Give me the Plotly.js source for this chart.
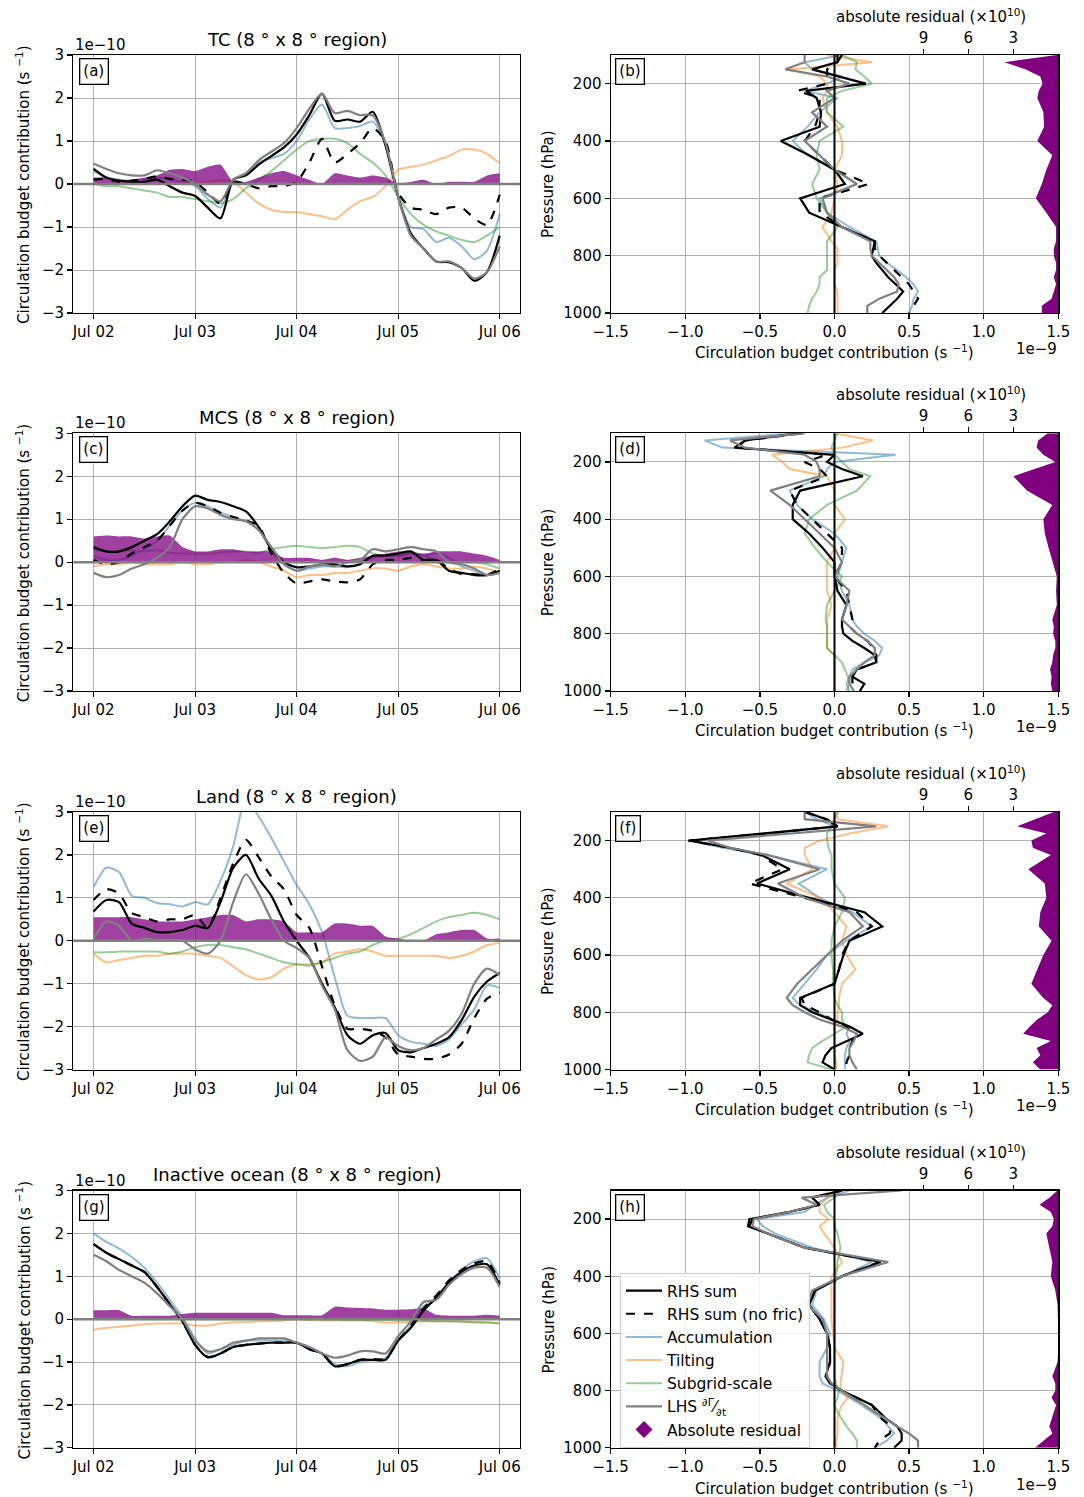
<!DOCTYPE html>
<html><head><meta charset="utf-8">
<script src="https://cdn.plot.ly/plotly-3.0.1.min.js"></script>
<style>body{margin:0;background:#fff}#chart{width:1084px;height:1497px}</style>
</head><body><div id="chart"></div>
<script>
// ---------- time axis (days after Jul 02 00 UTC) ----------
const timeDays = [0,0.125,0.25,0.375,0.5,0.625,0.75,0.875,1,1.125,1.25,1.375,1.5,1.625,1.75,1.875,2,2.125,2.25,2.375,2.5,2.625,2.75,2.875,3,3.125,3.25,3.375,3.5,3.625,3.75,3.875,4];
const tickDays = [0,1,2,3,4];
const tickDates = ['Jul 02','Jul 03','Jul 04','Jul 05','Jul 06'];
const pressure = [100,125,150,175,200,225,250,300,350,400,450,500,550,600,650,700,750,775,800,825,850,875,900,925,950,975,1000];
const pressureTicks = [200,400,600,800,1000];
const residTicks = [3,6,9];

// ---------- (a) TC time series (x1e-10 s^-1) ----------
const tcRHS = [0.35,0.15,0.08,0.05,0.05,0.1,-0.05,-0.2,-0.28,-0.55,-0.8,0.1,0.2,0.45,0.65,0.85,1.15,1.6,2.1,1.47,1.5,1.45,1.68,0.9,-0.3,-1.15,-1.5,-1.8,-1.82,-1.95,-2.25,-2.05,-1.2];
const tcNofric = [0.1,0.12,0.05,0.08,0.12,0.18,0.12,0.1,0.05,-0.2,-0.45,0.05,0.0,-0.1,-0.05,-0.05,0.05,0.5,1.05,0.5,0.7,0.95,1.3,1.0,-0.2,-0.55,-0.6,-0.7,-0.55,-0.55,-0.8,-0.95,-0.25];
const tcAccum = [0.3,0.15,0.1,0.05,0.1,0.15,0.1,0.05,-0.05,-0.35,-0.55,0.1,0.25,0.5,0.6,0.7,1.0,1.5,1.85,1.3,1.3,1.35,1.45,0.9,-0.3,-1.0,-1.05,-1.35,-1.25,-1.45,-1.75,-1.55,-0.7];
const tcTilt = [0,0,0,0,0,0,0,0.02,0.02,0.05,0.08,0.05,-0.2,-0.45,-0.6,-0.65,-0.65,-0.7,-0.75,-0.82,-0.6,-0.4,-0.3,-0.05,0.33,0.4,0.45,0.55,0.65,0.8,0.8,0.7,0.48];
const tcSub = [0,-0.05,-0.05,-0.1,-0.15,-0.2,-0.3,-0.3,-0.35,-0.4,-0.45,-0.35,-0.1,0.1,0.3,0.55,0.8,1.0,1.05,1.05,0.95,0.7,0.5,0.2,-0.3,-0.7,-0.95,-1.1,-1.2,-1.3,-1.35,-1.2,-1.0];
const tcLHS = [0.47,0.35,0.25,0.2,0.2,0.32,0.25,0.15,0.0,-0.25,-0.4,0.1,0.25,0.55,0.75,0.95,1.3,1.75,2.1,1.65,1.7,1.6,1.6,0.95,-0.3,-1.2,-1.5,-1.8,-1.8,-1.95,-2.2,-2.05,-1.45];
const tcResid = [0.15,0.15,0.1,0.1,0.15,0.2,0.33,0.35,0.3,0.4,0.45,0.05,0.05,0.15,0.25,0.3,0.2,0.1,0.0,0.25,0.2,0.15,0.2,0.15,0.0,0.05,0.1,0.0,0.05,0.05,0.05,0.2,0.25];

// ---------- (c) MCS time series ----------
const mcsRHS = [0.35,0.25,0.25,0.35,0.5,0.65,0.95,1.3,1.55,1.45,1.4,1.3,1.18,0.82,0.3,0.0,-0.12,-0.1,-0.05,-0.05,-0.1,-0.05,0.15,0.15,0.2,0.25,0.05,0.05,-0.2,-0.25,-0.3,-0.3,-0.2];
const mcsNofric = [0.05,-0.05,0.0,0.2,0.35,0.5,0.85,1.2,1.38,1.3,1.15,1.05,0.97,0.85,0.2,-0.25,-0.5,-0.45,-0.4,-0.45,-0.47,-0.4,-0.05,0.05,0.05,0.1,0.05,0.05,-0.15,-0.28,-0.28,-0.3,-0.15];
const mcsAccum = [0.15,0.05,0.05,0.15,0.3,0.5,0.85,1.2,1.38,1.3,1.15,1.05,0.95,0.75,0.35,0.0,-0.2,-0.15,-0.1,-0.1,-0.12,-0.05,0.1,0.15,0.15,0.2,0.15,0.2,0.1,-0.1,-0.2,-0.3,-0.25];
const mcsTilt = [-0.1,-0.05,-0.05,0.0,-0.05,-0.05,-0.05,0.0,-0.05,-0.05,0.0,0.0,0.05,0.0,-0.1,-0.2,-0.35,-0.3,-0.3,-0.25,-0.25,-0.2,-0.15,-0.15,-0.2,-0.1,-0.05,-0.1,-0.15,-0.15,-0.1,-0.15,-0.25];
const mcsSub = [0.28,0.25,0.25,0.28,0.25,0.28,0.22,0.2,0.2,0.2,0.22,0.25,0.25,0.22,0.3,0.35,0.38,0.35,0.33,0.35,0.38,0.35,0.2,0.15,0.15,0.2,0.15,0.05,0.0,0.0,0.0,-0.05,-0.15];
const mcsLHS = [-0.25,-0.35,-0.3,-0.15,-0.05,0.1,0.35,1.0,1.3,1.25,1.1,1.0,0.95,0.75,0.35,-0.05,-0.2,-0.1,-0.05,-0.1,0.0,0.05,0.3,0.25,0.3,0.35,0.3,0.25,0.0,-0.05,-0.15,-0.3,-0.25];
const mcsResid = [0.6,0.62,0.6,0.6,0.55,0.6,0.62,0.35,0.25,0.25,0.3,0.3,0.25,0.25,0.25,0.1,0.1,0.1,0.05,0.1,0.05,0.1,0.15,0.2,0.25,0.25,0.2,0.25,0.25,0.25,0.2,0.15,0.05];

// ---------- (e) Land time series ----------
const landRHS = [0.68,0.95,0.9,0.4,0.3,0.2,0.2,0.25,0.35,0.3,0.9,1.7,2.0,1.45,1.05,0.45,0.0,-0.4,-1.0,-1.55,-2.2,-2.4,-2.2,-2.15,-2.55,-2.6,-2.5,-2.4,-2.25,-1.85,-1.3,-0.95,-0.75];
const landNofric = [0.95,1.2,1.1,0.65,0.55,0.45,0.5,0.5,0.6,0.3,1.0,1.8,2.35,1.95,1.5,1.2,0.6,0.3,-0.6,-1.5,-2.05,-2.05,-2.1,-2.25,-2.65,-2.7,-2.75,-2.75,-2.65,-2.4,-1.8,-1.35,-1.2];
const landAccum = [1.25,1.7,1.6,1.05,1.0,0.88,0.85,0.8,0.9,0.85,1.4,2.2,3.3,2.9,2.4,1.85,1.3,0.85,0.2,-0.85,-1.75,-1.8,-1.8,-1.8,-2.2,-2.35,-2.4,-2.45,-2.3,-1.95,-1.6,-1.04,-1.1];
const landTilt = [-0.3,-0.5,-0.45,-0.4,-0.35,-0.35,-0.3,-0.3,-0.3,-0.35,-0.4,-0.6,-0.8,-0.9,-0.85,-0.65,-0.55,-0.55,-0.5,-0.3,-0.25,-0.2,-0.25,-0.35,-0.35,-0.35,-0.35,-0.35,-0.4,-0.35,-0.25,-0.1,-0.05];
const landSub = [-0.27,-0.27,-0.25,-0.25,-0.25,-0.25,-0.3,-0.25,-0.15,-0.1,-0.1,-0.15,-0.2,-0.3,-0.4,-0.5,-0.55,-0.58,-0.5,-0.4,-0.3,-0.25,-0.1,0.0,0.05,0.15,0.3,0.45,0.55,0.6,0.65,0.6,0.5];
const landLHS = [0.05,0.45,0.35,0.0,0.05,0.02,0.02,0.0,-0.2,-0.3,0.0,0.9,1.55,1.1,0.5,0.0,-0.17,-0.4,-1.05,-1.6,-2.55,-2.8,-2.7,-2.25,-2.45,-2.55,-2.5,-2.3,-2.1,-1.7,-1.0,-0.65,-0.8];
const landResid = [0.55,0.55,0.55,0.55,0.5,0.45,0.45,0.45,0.5,0.55,0.6,0.6,0.45,0.5,0.5,0.45,0.2,0.2,0.2,0.4,0.4,0.35,0.35,0.1,0.05,0.0,0.0,0.15,0.2,0.25,0.25,0.05,0.05];

// ---------- (g) Inactive ocean time series ----------
const oceanRHS = [1.75,1.55,1.4,1.25,1.1,0.75,0.35,-0.05,-0.6,-0.89,-0.8,-0.65,-0.6,-0.57,-0.55,-0.55,-0.55,-0.7,-0.8,-1.1,-1.05,-0.95,-0.95,-0.95,-0.5,-0.2,0.2,0.5,0.85,1.1,1.25,1.28,0.8];
const oceanNofric = [1.75,1.55,1.4,1.25,1.1,0.75,0.35,-0.05,-0.6,-0.88,-0.8,-0.65,-0.6,-0.57,-0.55,-0.55,-0.55,-0.7,-0.8,-1.1,-1.05,-0.95,-0.93,-0.93,-0.5,-0.15,0.25,0.55,0.9,1.15,1.3,1.35,0.85];
const oceanAccum = [2.0,1.8,1.65,1.45,1.2,0.85,0.45,0.05,-0.45,-0.8,-0.7,-0.6,-0.5,-0.5,-0.5,-0.5,-0.55,-0.65,-0.8,-1.05,-1.1,-1.0,-0.95,-0.9,-0.5,-0.15,0.3,0.45,0.85,1.15,1.35,1.42,0.95];
const oceanTilt = [-0.25,-0.2,-0.18,-0.15,-0.12,-0.1,-0.1,-0.1,-0.15,-0.15,-0.1,-0.08,-0.07,-0.05,-0.05,-0.03,0.0,-0.02,-0.03,-0.03,-0.03,-0.03,-0.05,-0.08,-0.08,-0.07,-0.05,-0.05,-0.05,-0.05,-0.07,-0.08,-0.1];
const oceanSub = [0,0,0,0,0,0,0,0,0,0,0,0,0,0,0,0,0,-0.01,-0.01,-0.01,-0.02,-0.02,-0.02,-0.02,-0.03,-0.03,-0.04,-0.05,-0.05,-0.06,-0.07,-0.08,-0.1];
const oceanLHS = [1.5,1.35,1.15,1.0,0.85,0.6,0.3,0.0,-0.5,-0.75,-0.7,-0.55,-0.5,-0.45,-0.45,-0.45,-0.55,-0.65,-0.8,-0.9,-0.85,-0.75,-0.75,-0.8,-0.4,-0.05,0.4,0.45,0.8,1.05,1.2,1.2,0.75];
const oceanResid = [0.21,0.21,0.21,0.08,0.08,0.08,0.08,0.12,0.15,0.15,0.15,0.15,0.15,0.15,0.15,0.09,0.09,0.09,0.09,0.29,0.27,0.26,0.25,0.22,0.22,0.23,0.25,0.1,0.08,0.08,0.08,0.1,0.08];

// ---------- vertical profiles (x1e-9 s^-1), residual (x1e10) ----------
const tcpRHS = [0.05,0.02,-0.15,0.03,0.21,-0.19,-0.12,-0.09,-0.1,-0.36,-0.17,0.0,0.07,-0.23,-0.17,0.05,0.27,0.26,0.25,0.28,0.32,0.36,0.41,0.46,0.42,0.37,0.32];
const tcpNofric = [0.02,0.02,-0.05,-0.05,-0.05,-0.25,-0.1,-0.1,-0.13,-0.2,-0.1,0.0,0.23,-0.1,-0.1,0.05,0.27,0.27,0.3,0.35,0.4,0.45,0.5,0.53,0.56,0.53,0.5];
const tcpAccum = [0.05,-0.2,-0.15,0.05,-0.05,-0.2,0.02,-0.1,-0.18,-0.28,-0.18,0.0,0.15,-0.1,-0.05,0.1,0.28,0.29,0.3,0.35,0.42,0.48,0.53,0.56,0.53,0.52,0.5];
const tcpTilt = [-0.05,0.25,-0.3,-0.1,-0.05,-0.05,-0.08,-0.05,0.02,0.05,0.05,0.0,0.02,0.0,-0.02,-0.08,-0.02,0.02,0.02,0.02,0.0,0.0,0.0,0.02,0.02,0.02,0.02];
const tcpSub = [0.05,0.15,0.14,0.2,0.25,0.05,-0.05,-0.05,0.06,-0.1,-0.12,-0.1,-0.15,-0.12,-0.05,0.02,-0.05,-0.05,-0.05,-0.05,-0.05,-0.1,-0.1,-0.12,-0.15,-0.17,-0.18];
const tcpLHS = [-0.2,-0.2,-0.33,-0.05,0.1,-0.05,0.0,-0.15,-0.05,-0.2,-0.1,0.0,0.15,-0.08,-0.05,0.05,0.24,0.24,0.25,0.3,0.35,0.4,0.43,0.42,0.3,0.22,0.22];
const tcpResid = [0.1,3.6,2.2,1.2,1.05,1.3,1.4,1.0,0.95,1.4,0.4,0.8,1.1,1.5,0.8,0.15,0.15,0.3,0.3,0.15,0.15,0.3,0.15,0.3,0.45,1.1,1.1];

const mcspRHS = [-0.25,-0.6,-0.67,0.0,-0.05,0.05,0.19,-0.23,-0.28,-0.28,-0.17,-0.08,0.0,0.0,0.02,0.08,0.05,0.05,0.06,0.12,0.2,0.27,0.28,0.15,0.12,0.2,0.17];
const mcspNofric = [-0.22,-0.6,-0.65,-0.05,-0.2,-0.1,-0.05,-0.3,-0.25,-0.15,-0.05,0.05,0.05,0.0,0.08,0.1,0.12,0.1,0.15,0.22,0.26,0.28,0.28,0.15,0.12,0.12,0.1];
const mcspAccum = [-0.3,-0.87,-0.75,0.41,0.0,-0.05,-0.07,-0.3,-0.25,-0.15,0.0,0.08,0.05,0.02,0.05,0.1,0.12,0.15,0.2,0.27,0.32,0.3,0.2,0.12,0.1,0.08,0.1];
const mcspTilt = [0.0,0.26,0.05,-0.42,-0.35,-0.3,-0.05,0.0,0.0,0.07,0.0,0.0,-0.05,-0.05,-0.05,-0.02,-0.05,-0.05,-0.05,-0.05,-0.05,0.0,0.0,0.0,0.0,0.0,0.0];
const mcspSub = [0.02,0.0,-0.02,0.0,0.05,0.1,0.24,0.15,-0.05,-0.17,-0.2,-0.13,-0.05,0.05,0.0,-0.05,-0.06,-0.05,-0.05,-0.05,-0.05,0.0,0.05,0.07,0.09,0.1,0.08];
const mcspLHS = [-0.2,-0.7,-0.6,-0.2,-0.12,-0.1,-0.1,-0.43,-0.3,-0.2,-0.1,0.0,0.05,0.0,0.1,0.08,0.05,0.1,0.15,0.22,0.27,0.27,0.2,0.15,0.1,0.1,0.13];
const mcspResid = [0.7,1.35,1.45,1.0,0.2,1.55,3.0,2.1,0.4,1.0,0.9,0.65,0.35,0.1,0.15,0.1,0.4,0.3,0.35,0.2,0.2,0.35,0.4,0.55,0.45,0.5,0.4];

const landpRHS = [-0.19,-0.06,0.02,-0.5,-0.97,-0.7,-0.49,-0.3,-0.52,-0.17,0.2,0.32,0.1,0.06,0.03,0.0,-0.23,-0.23,-0.15,-0.02,0.1,0.19,0.08,-0.02,-0.06,-0.08,0.0];
const landpNofric = [-0.2,-0.05,0.02,-0.45,-0.98,-0.7,-0.5,-0.35,-0.57,-0.2,0.15,0.25,0.1,0.05,0.03,0.0,-0.22,-0.2,-0.1,-0.02,0.08,0.12,0.12,0.1,0.1,0.08,0.08];
const landpAccum = [-0.2,-0.12,0.0,-0.4,-0.97,-0.75,-0.45,-0.05,-0.24,-0.1,0.12,0.25,0.08,-0.05,-0.12,-0.2,-0.28,-0.23,-0.12,0.0,0.1,0.08,0.1,0.08,0.07,0.07,0.07];
const landpTilt = [0.02,0.02,0.36,0.1,-0.1,-0.2,-0.2,-0.15,-0.32,-0.1,0.0,0.08,0.05,0.08,0.14,0.05,0.03,0.03,0.02,0.02,0.0,0.0,0.0,0.0,0.0,0.01,0.01];
const landpSub = [0.02,0.0,-0.02,-0.05,-0.05,-0.04,-0.02,-0.02,0.0,0.07,0.05,0.0,-0.02,-0.02,-0.01,-0.01,0.0,0.02,0.05,0.05,0.08,0.0,-0.08,-0.15,-0.17,-0.18,-0.02];
const landpLHS = [-0.2,-0.2,0.28,-0.3,-0.85,-0.7,-0.45,-0.1,-0.38,-0.2,0.1,0.19,0.05,-0.05,-0.15,-0.25,-0.32,-0.28,-0.2,-0.1,0.05,0.15,0.13,0.1,0.1,0.12,0.15];
const landpResid = [0.3,1.5,2.75,0.8,1.8,1.7,0.5,2.0,0.9,0.8,1.2,1.3,0.45,1.0,1.4,1.8,1.0,0.4,0.7,1.4,1.9,2.35,0.5,1.45,1.2,1.7,1.2];

const oceanpRHS = [0.05,-0.15,-0.1,-0.3,-0.57,-0.58,-0.45,-0.2,0.31,0.05,-0.13,-0.17,-0.1,-0.05,-0.03,-0.03,-0.06,-0.03,0.05,0.15,0.25,0.3,0.35,0.42,0.45,0.45,0.4];
const oceanpNofric = [0.05,-0.15,-0.1,-0.3,-0.55,-0.57,-0.45,-0.2,0.3,0.05,-0.13,-0.17,-0.1,-0.05,-0.03,-0.03,-0.05,-0.03,0.05,0.15,0.25,0.28,0.32,0.38,0.37,0.3,0.27];
const oceanpAccum = [0.1,-0.05,-0.13,-0.2,-0.52,-0.48,-0.4,-0.15,0.25,0.05,-0.12,-0.15,-0.07,-0.03,-0.05,-0.1,-0.1,-0.08,0.02,0.1,0.18,0.25,0.32,0.36,0.4,0.35,0.27];
const oceanpTilt = [-0.05,-0.04,-0.1,-0.1,-0.04,-0.1,-0.07,0.0,0.05,-0.02,-0.02,-0.02,-0.02,-0.01,0.0,0.06,0.05,0.04,0.05,0.09,0.05,0.03,0.02,0.02,0.02,0.01,0.01];
const oceanpSub = [0.04,0.0,-0.07,-0.05,0.0,0.0,0.02,0.04,0.02,0.01,0.0,0.0,0.0,0.0,0.0,0.0,0.0,0.01,0.03,0.02,0.0,0.02,0.05,0.08,0.12,0.15,0.15];
const oceanpLHS = [0.45,-0.22,-0.12,-0.3,-0.54,-0.55,-0.45,-0.2,0.36,0.05,-0.15,-0.18,-0.08,-0.05,-0.05,-0.05,-0.05,-0.02,0.05,0.12,0.2,0.27,0.35,0.42,0.5,0.56,0.56];
const oceanpResid = [0.05,0.6,1.25,0.5,0.3,0.4,0.8,0.6,0.4,0.5,0.2,0.05,0.0,0.0,0.0,0.05,0.4,0.2,0.2,0.45,0.15,0.3,0.5,0.6,0.4,1.0,1.55];

const regionTitles = ['TC (8 ° x 8 ° region)','MCS (8 ° x 8 ° region)','Land (8 ° x 8 ° region)','Inactive ocean (8 ° x 8 ° region)'];
const panelLabels = [['(a)','(b)'],['(c)','(d)'],['(e)','(f)'],['(g)','(h)']];
const seriesNames = {rhs:'RHS sum', nofric:'RHS sum (no fric)', acc:'Accumulation', tilt:'Tilting', sub:'Subgrid-scale', lhs:'LHS <sup>∂Γ</sup>⁄<sub>∂t</sub>', res:'Absolute residual'};

// ---------- build ----------
const W = 1084, H = 1497;
const px = v => v / W, py = v => 1 - v / H;
const rowTop = [55, 433.3, 812, 1190.5];
const rowBot = [313, 691, 1069.5, 1447.8];
const FONT = 'DejaVu Sans';
const COL = {acc:'rgba(31,119,180,0.5)', tilt:'rgba(255,127,14,0.5)', sub:'rgba(44,160,44,0.5)',
             rhs:'black', lhs:'gray', resL:'rgba(128,0,128,0.75)', resR:'purple'};

const sets = [
  {ts:[tcRHS,tcNofric,tcAccum,tcTilt,tcSub,tcLHS,tcResid], pr:[tcpRHS,tcpNofric,tcpAccum,tcpTilt,tcpSub,tcpLHS,tcpResid]},
  {ts:[mcsRHS,mcsNofric,mcsAccum,mcsTilt,mcsSub,mcsLHS,mcsResid], pr:[mcspRHS,mcspNofric,mcspAccum,mcspTilt,mcspSub,mcspLHS,mcspResid]},
  {ts:[landRHS,landNofric,landAccum,landTilt,landSub,landLHS,landResid], pr:[landpRHS,landpNofric,landpAccum,landpTilt,landpSub,landpLHS,landpResid]},
  {ts:[oceanRHS,oceanNofric,oceanAccum,oceanTilt,oceanSub,oceanLHS,oceanResid], pr:[oceanpRHS,oceanpNofric,oceanpAccum,oceanpTilt,oceanpSub,oceanpLHS,oceanpResid]}
];

const traces = [], shapes = [], annotations = [];
const layout = {
  width: W, height: H, margin:{l:0,r:0,t:0,b:0},
  paper_bgcolor:'white', plot_bgcolor:'white',
  font:{family:FONT, size:15, color:'black'},
  showlegend:true,
  legend:{x:px(620), y:py(1273), xanchor:'left', yanchor:'top', bgcolor:'rgba(255,255,255,0.85)',
          bordercolor:'#cccccc', borderwidth:1, font:{size:15.5}, itemwidth:36, tracegroupgap:0},
};

const axKey = n => n === 1 ? 'xaxis' : 'xaxis' + n;
const ayKey = n => n === 1 ? 'yaxis' : 'yaxis' + n;
const baseAx = {showline:true, linecolor:'black', linewidth:1.2, mirror:true, ticks:'outside', ticklen:5,
  tickcolor:'black', tickwidth:1.2, showgrid:true, gridcolor:'#b0b0b0', gridwidth:1, zeroline:false,
  tickfont:{size:15}};

function ln(x, y, color, width, dash, name, xa, ya, show, rank, smooth) {
  const line = {color, width, dash:dash||'solid'};
  if (smooth) { line.shape = 'spline'; line.smoothing = 0.7; }
  return {type:'scatter', mode:'lines', x, y, xaxis:xa, yaxis:ya, name, showlegend:show,
          legendrank:rank, line, hoverinfo:'skip'};
}

sets.forEach((s, r) => {
  const nL = 3*r+1, nR = 3*r+2, nT = 3*r+3;
  const xl = 'x'+nL, yl = 'y'+nL, xr = 'x'+nR, yr = 'y'+nR, xt = 'x'+nT;
  const dom = [py(rowBot[r]), py(rowTop[r])];
  const show = (r === 3);
  const [rhs, nofric, acc, tilt, sub, lhs, res] = s.ts;
  const [prhs, pnofric, pacc, ptilt, psub, plhs, pres] = s.pr;

  layout[axKey(nL)] = Object.assign({}, baseAx, {domain:[px(73.3), px(520)], range:[-0.2, 4.2],
    tickvals:tickDays, ticktext:tickDates, anchor:yl});
  layout[ayKey(nL)] = Object.assign({}, baseAx, {domain:dom, range:[-3, 3], dtick:1, tick0:0, anchor:xl});
  layout[axKey(nR)] = Object.assign({}, baseAx, {domain:[px(610.7), px(1058.3)], range:[-1.5, 1.5],
    dtick:0.5, tick0:0, tickformat:'.1f', anchor:yr});
  layout[ayKey(nR)] = Object.assign({}, baseAx, {domain:dom, range:[1000, 100], tickvals:pressureTicks, anchor:xr});
  layout[axKey(nT)] = {overlaying:xr, side:'top', anchor:yr, range:[29.87, 0], tickvals:residTicks,
    ticks:'outside', ticklen:5, tickcolor:'black', tickwidth:1.2, showgrid:false, zeroline:false,
    showline:false, tickfont:{size:15}};

  // left panel (time series)
  traces.push(ln(timeDays, acc, COL.acc, 2, null, seriesNames.acc, xl, yl, false, 3, true));
  traces.push(ln(timeDays, tilt, COL.tilt, 2, null, seriesNames.tilt, xl, yl, false, 4, true));
  traces.push(ln(timeDays, sub, COL.sub, 2, null, seriesNames.sub, xl, yl, false, 5, true));
  traces.push({type:'scatter', mode:'lines', x:timeDays, y:res, xaxis:xl, yaxis:yl, fill:'tozeroy',
    fillcolor:COL.resL, line:{width:0, color:COL.resL, shape:'spline', smoothing:0.5}, showlegend:false, hoverinfo:'skip'});
  traces.push(ln(timeDays, rhs, COL.rhs, 2.2, null, seriesNames.rhs, xl, yl, false, 1, true));
  traces.push(ln(timeDays, nofric, COL.rhs, 2.2, 'dash', seriesNames.nofric, xl, yl, false, 2, true));
  traces.push(ln(timeDays, lhs, COL.lhs, 2.2, null, seriesNames.lhs, xl, yl, false, 6, true));

  // right panel (profiles)
  traces.push(ln(pacc, pressure, COL.acc, 2, null, seriesNames.acc, xr, yr, show, 3));
  traces.push(ln(ptilt, pressure, COL.tilt, 2, null, seriesNames.tilt, xr, yr, show, 4));
  traces.push(ln(psub, pressure, COL.sub, 2, null, seriesNames.sub, xr, yr, show, 5));
  traces.push(ln(prhs, pressure, COL.rhs, 2.2, null, seriesNames.rhs, xr, yr, show, 1));
  traces.push(ln(pnofric, pressure, COL.rhs, 2.2, 'dash', seriesNames.nofric, xr, yr, show, 2));
  traces.push(ln(plhs, pressure, COL.lhs, 2.2, null, seriesNames.lhs, xr, yr, show, 6));
  traces.push({type:'scatter', mode:'lines', x:pres, y:pressure, xaxis:xt, yaxis:yr, fill:'tozerox',
    fillcolor:COL.resR, line:{width:0, color:COL.resR}, showlegend:false, hoverinfo:'skip'});
  if (show) {
    traces.push({type:'scatter', mode:'markers', x:[null], y:[null], xaxis:xr, yaxis:yr,
      name:seriesNames.res, legendrank:7, showlegend:true,
      marker:{symbol:'diamond', size:13, color:COL.resR}});
  }

  shapes.push({type:'line', xref:xl+' domain', x0:0, x1:1, yref:yl, y0:0, y1:0,
    line:{color:'gray', width:2.5}, layer:'above'});
  shapes.push({type:'line', xref:xr, x0:0, x1:0, yref:yr+' domain', y0:0, y1:1,
    line:{color:'black', width:2}, layer:'above'});

  const dy = rowTop[r] - rowTop[0];
  annotations.push({text:regionTitles[r], xref:'paper', yref:'paper', x:px(296.5), y:py(39+dy),
    xanchor:'center', yanchor:'middle', showarrow:false, font:{size:18}});
  annotations.push({text:'1e−10', xref:'paper', yref:'paper', x:px(73), y:py(45+dy),
    xanchor:'left', yanchor:'middle', showarrow:false, font:{size:15}});
  annotations.push({text:'1e−9', xref:'paper', yref:'paper', x:px(1059), y:py(349+dy),
    xanchor:'right', yanchor:'middle', showarrow:false, font:{size:15}});
  annotations.push({text:'Circulation budget contribution (s <sup>−1</sup>)', xref:'paper', yref:'paper',
    x:px(23), y:py(185+dy), textangle:-90, xanchor:'center', yanchor:'middle', showarrow:false, font:{size:15}});
  annotations.push({text:'Pressure (hPa)', xref:'paper', yref:'paper', x:px(548), y:py(184+dy),
    textangle:-90, xanchor:'center', yanchor:'middle', showarrow:false, font:{size:15}});
  annotations.push({text:'Circulation budget contribution (s <sup>−1</sup>)', xref:'paper', yref:'paper',
    x:px(834), y:py(352+dy), xanchor:'center', yanchor:'middle', showarrow:false, font:{size:15}});
  annotations.push({text:'absolute residual (×10<sup>10</sup>)', xref:'paper', yref:'paper',
    x:px(931), y:py(16+dy), xanchor:'center', yanchor:'middle', showarrow:false, font:{size:15}});
  annotations.push({text:panelLabels[r][0], xref:'paper', yref:'paper', x:px(78.5), y:py(58+dy),
    xanchor:'left', yanchor:'top', showarrow:false, bordercolor:'black', borderwidth:1.3, borderpad:3,
    bgcolor:'white', font:{size:15}});
  annotations.push({text:panelLabels[r][1], xref:'paper', yref:'paper', x:px(614.5), y:py(58+dy),
    xanchor:'left', yanchor:'top', showarrow:false, bordercolor:'black', borderwidth:1.3, borderpad:3,
    bgcolor:'white', font:{size:15}});
});

layout.shapes = shapes;
layout.annotations = annotations;
Plotly.newPlot('chart', traces, layout, {displayModeBar:false, staticPlot:true});
</script>
</body></html>
